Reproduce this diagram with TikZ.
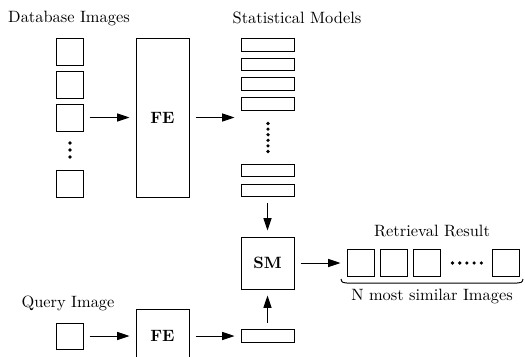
\documentclass[tikz,border=0pt]{standalone}
\usetikzlibrary{arrows.meta}
\def\u{0.61pt}
\begin{document}
\begin{tikzpicture}[x=0.61pt,y=-0.61pt,
  line width=0.6pt,
  box/.style={draw,inner sep=0pt,outer sep=0pt,minimum width=#1*\u},
  sq/.style={box=27,minimum height=27*\u},
  slab/.style={box=53,minimum height=12.5*\u},
  arr/.style={-{Triangle[length=7.6pt,width=5pt]},shorten <=6.5*\u,shorten >=6.5*\u},
  lbl/.style={inner sep=0pt,font=\fontsize{10}{12}\selectfont},
  dot/.style={fill,circle,inner sep=0pt,minimum size=3.6*\u}]
\useasboundingbox (0,0) rectangle (525,356);
\clip (0,0) rectangle (525,356);

% database column
\node[lbl] (dbl) at (69,18) {Database Images};
\node[sq] (d1) at (69.5,51.5) {};
\node[sq] (d2) at (69.5,84.5) {};
\node[sq] (d3) at (69.5,117.5) {};
\node[sq] (d4) at (69.5,183.5) {};
\foreach \y/\n in {143/a,150/b,157/c} \node[dot] (dd\n) at (70,\y) {};

% feature extraction for the database
\node[box=53,minimum height=159*\u,font=\bfseries] (fe1) at (162.5,117.5) {FE};

% statistical models
\node[lbl] (sml) at (297,18) {Statistical Models};
\node[slab] (s1) at (267.5,45) {};
\node[slab] (s2) at (267.5,64.5) {};
\node[slab] (s3) at (267.5,84) {};
\node[slab] (s4) at (267.5,104) {};
\foreach \i in {0,...,5} \node[dot] (sd\i) at (268,123.5+5.6*\i) {};
\node[slab] (s5) at (267.5,170.5) {};
\node[slab] (s6) at (267.5,190.5) {};
\coordinate (sin) at (241,117.5);

% similarity measure
\node[box=53,minimum height=52*\u,font=\bfseries] (sm) at (267.5,263) {SM};

% query branch
\node[lbl] (ql) at (68,303) {Query Image};
\node[box=27,minimum height=26*\u] (q) at (69.5,336) {};
\node[box=53,minimum height=54*\u,font=\bfseries] (fe2) at (162.5,336) {FE};
\node[slab,minimum height=13.5*\u] (qr) at (267.5,336) {};

% retrieval result
\node[lbl] (rl) at (432,231) {Retrieval Result};
\node[sq] (r1) at (360.5,263) {};
\node[sq] (r2) at (393.5,263) {};
\node[sq] (r3) at (426.5,263) {};
\node[sq] (r4) at (505.5,263) {};
\foreach \i in {0,...,4} \node[dot] (rd\i) at (452.5+7.2*\i,263) {};
\coordinate (bl) at (341,279);
\coordinate (br) at (523,279);
% flat bracket under the results
\draw (bl) .. controls (342,282.5) .. (347,283) -- (517,283) .. controls (522,282.5) .. (br);
\node[lbl] (nl) at (432,296) {N most similar Images};

% connectors
\draw[arr] (d3) -- (fe1.west |- d3);
\draw[arr] (fe1.east |- sin) -- (sin);
\draw[arr] (s6) -- (sm);
\draw[arr] (qr) -- (sm);
\draw[arr] (q) -- (fe2.west |- q);
\draw[arr] (fe2.east |- qr) -- (qr);
\draw[arr] (sm) -- (r1);
\end{tikzpicture}
\end{document}
